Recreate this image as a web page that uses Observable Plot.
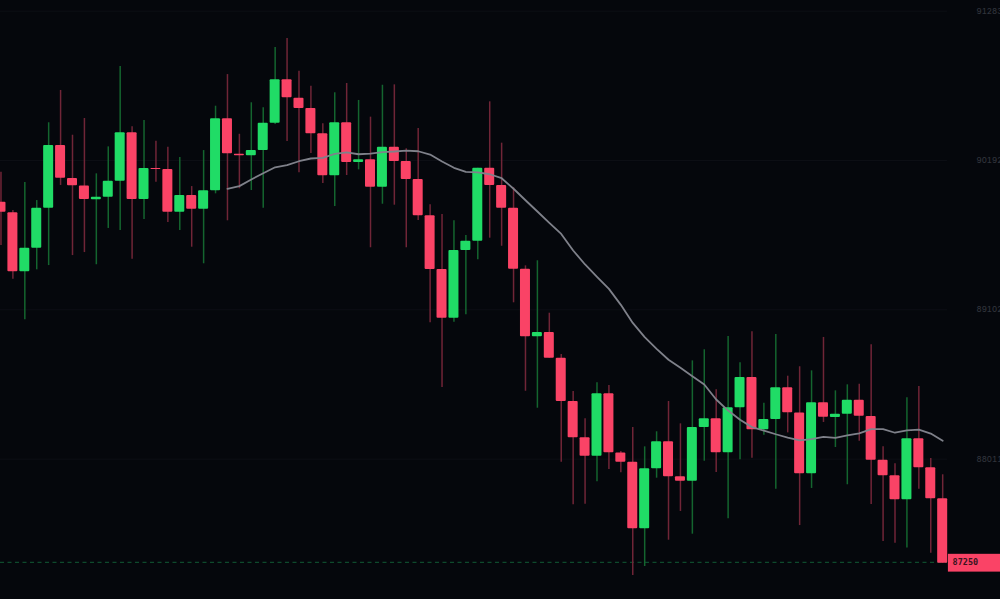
<!DOCTYPE html>
<html><head><meta charset="utf-8">
<script src="https://cdn.jsdelivr.net/npm/d3@7"></script>
<script src="https://cdn.jsdelivr.net/npm/@observablehq/plot@0.6"></script>
<style>html,body{margin:0;padding:0;background:#05070c;overflow:hidden}svg{display:block}</style>
</head><body><div id="chart"></div>
<script>
const firstIndex = -2;
const highs = [90107,89827,90032,89900,90468,90704,90377,90499,90095,90292,90879,90438,90484,90333,90289,90214,90002,90265,90589,90820,90384,90614,90577,91018,91083,90845,90735,90460,90687,90755,90631,90509,90742,90745,90278,90426,89869,89798,89752,89645,90136,90621,90319,89993,89423,89460,89077,88775,88505,88306,88569,88549,88067,88242,88101,88211,88432,88269,88729,88810,88518,88907,88715,88941,88420,88921,88617,88686,88656,88900,88510,88554,88558,88846,88101,87977,88459,88542,88016,87897];
const tops = [89888,89810,89552,89844,90302,90302,90061,90006,89924,90041,90395,90395,90134,90134,90127,89937,89937,89971,90497,90497,90238,90265,90465,90782,90782,90647,90572,90387,90468,90468,90197,90197,90289,90289,90185,90054,89788,89396,89535,89603,90136,90136,90010,89844,89398,88936,88936,88748,88432,88167,88488,88488,88056,87989,87941,88138,88138,87882,88242,88306,88306,88386,88607,88607,88301,88532,88532,88348,88423,88423,88339,88442,88442,88322,88003,87889,88160,88160,87948,87721];
const bottoms = [89815,89379,89379,89552,89844,90063,90008,89907,89905,89924,90041,89907,89907,90127,89815,89815,89837,89837,89971,90241,90227,90227,90265,90465,90650,90572,90387,90081,90081,90178,90178,89997,89997,90185,90054,89788,89396,89040,89040,89535,89603,90010,89844,89398,88905,88905,88748,88432,88167,88033,88033,88057,87989,87502,87502,87941,87882,87850,87850,88242,88057,88057,88386,88225,88225,88301,88350,87904,87904,88317,88315,88339,88325,88003,87889,87714,87714,87948,87721,87250];
const lows = [89571,89325,89029,89394,89425,90010,89498,89520,89431,89696,89681,89471,89761,90034,89739,89681,89559,89438,89949,89752,89986,89973,89844,90455,90331,90103,90243,90024,89856,90083,90124,89555,89873,89866,89555,89754,89007,88534,89011,89065,89467,89625,89566,89153,88507,88383,88748,87989,87678,87682,87846,87935,87911,87161,87227,87872,87419,87629,87463,87996,87914,87575,88006,88018,88186,87791,88203,87526,87797,88279,88096,87824,88142,87680,87409,87397,87363,87791,87324,87250];
const rising = [0,0,1,1,1,0,0,0,1,1,1,0,1,0,0,1,0,1,1,0,0,1,1,1,0,0,0,0,1,0,1,0,1,0,0,0,0,0,1,1,1,0,0,0,0,1,0,0,0,0,1,0,0,0,1,1,0,0,1,1,0,1,1,0,1,1,0,0,1,0,1,1,0,0,0,0,1,0,0,0];
const maStart = 17;
const maValues = [89986,90005,90054,90099,90143,90158,90187,90207,90212,90241,90251,90238,90243,90253,90258,90265,90260,90236,90185,90139,90110,90105,90092,90063,89986,89902,89820,89737,89656,89535,89433,89343,89255,89138,89006,88902,88817,88737,88678,88617,88556,88447,88366,88299,88245,88220,88193,88169,88148,88157,88174,88167,88184,88200,88230,88230,88204,88221,88226,88198,88145];
const tickValues = [91283,90192,89102,88011];
const lastPrice = 87250;
const lastLabel = "87250";

const candles = highs.map((h, k) => ({
  i: firstIndex + k, high: h, top: tops[k], bottom: bottoms[k], low: lows[k], up: rising[k] === 1
}));
const ma = maValues.map((v, k) => ({ i: maStart + k, v }));
const lastI = firstIndex + highs.length - 1;

const GREEN = "#20dc66", RED = "#fa4366", GREEN_W = "#14652f", RED_W = "#702537";

const chart = Plot.plot({
  width: 1000, height: 599,
  marginTop: 0, marginRight: 0, marginBottom: 0, marginLeft: 0,
  style: { background: "#05070c" },
  x: { domain: [-2.04, 81.85], range: [0, 1000], axis: null },
  y: { domain: [86986, 91361], range: [599, 0], axis: null },
  marks: [
    Plot.ruleY(tickValues, { x1: -2.04, x2: 77.4, stroke: "#0d0f15", strokeWidth: 1 }),
    Plot.ruleY([lastPrice], { x1: -2.04, x2: 77.4, stroke: "#0e4a2c", strokeWidth: 1.2, strokeDasharray: "4 3.5", dy: -1 }),
    Plot.ruleX(candles, { x: "i", y1: "low", y2: "high", stroke: d => d.up ? GREEN_W : RED_W, strokeWidth: 1.5 }),
    Plot.rect(candles, { x1: d => d.i - 0.42, x2: d => d.i + 0.42, y1: "bottom", y2: "top", fill: d => d.up ? GREEN : RED, r: 1 }),
    Plot.line(ma, { x: "i", y: "v", stroke: "#7f818a", strokeWidth: 1.8, curve: "linear" }),
    Plot.rect([lastPrice], { x1: lastI + 0.48, x2: 82, y1: d => d - 64, y2: d => d + 66, fill: RED }),
    Plot.text([lastPrice], { x: lastI + 0.83, y: d => d, text: () => lastLabel, textAnchor: "start", fill: "#3a1420", fontSize: 8.5, fontWeight: 700, fontFamily: "DejaVu Sans Mono, monospace", dy: -1 }),
    Plot.axisY(tickValues, { anchor: "right", tickSize: 0, tickPadding: 0, dx: -24, textAnchor: "start", tickFormat: d => String(d), label: null, fill: "#30333b", fontSize: 8, fontWeight: 500, fontFamily: "Inter, sans-serif" })
  ]
});
document.getElementById("chart").appendChild(chart);
</script></body></html>
